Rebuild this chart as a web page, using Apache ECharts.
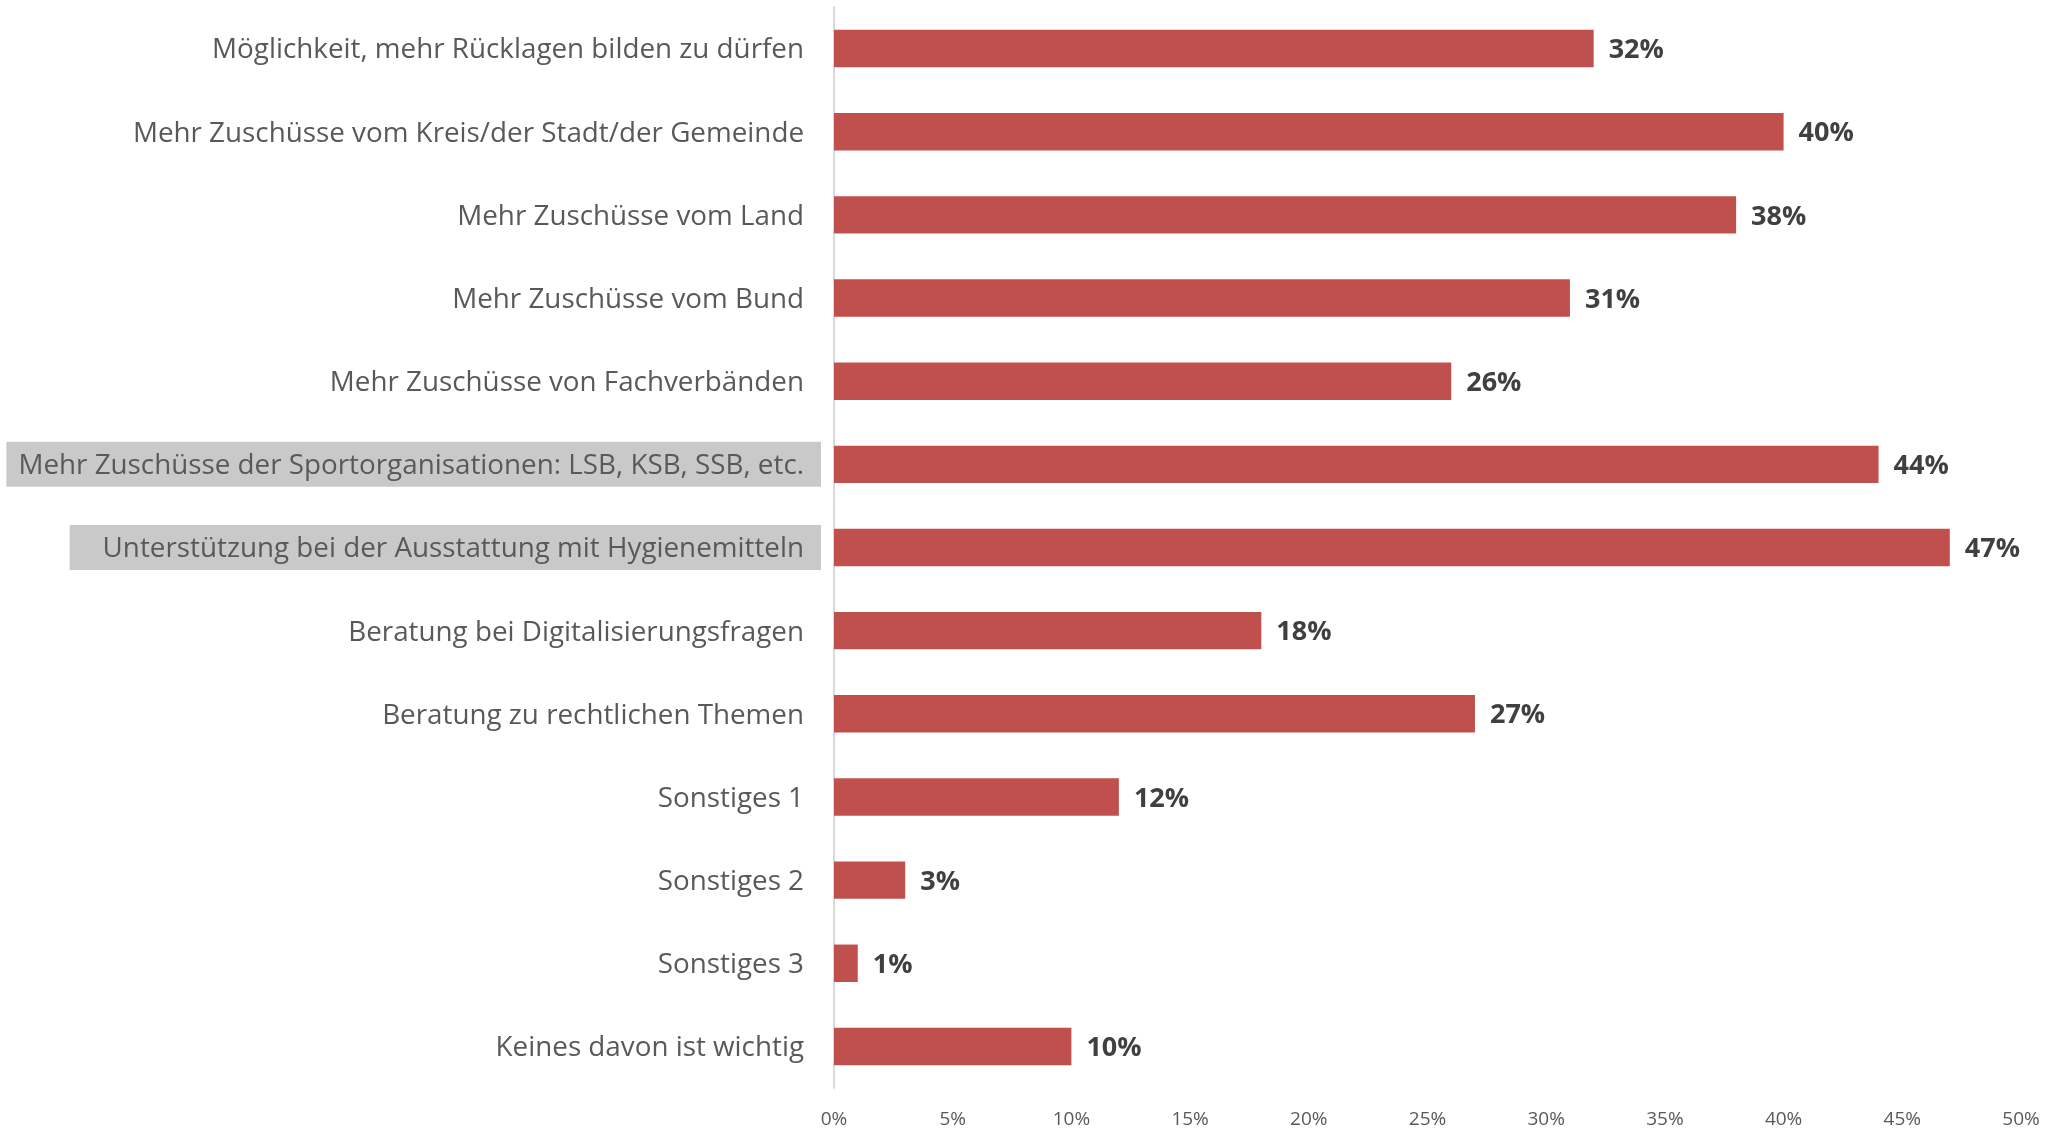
<!DOCTYPE html>
<html>
<head>
<meta charset="utf-8">
<script src="https://cdn.jsdelivr.net/npm/echarts@6/dist/echarts.min.js"></script>
<style>
  html, body { margin: 0; padding: 0; background: #fff; }
  #chart { width: 2049px; height: 1130px; }
</style>
</head>
<body>
<div id="chart"></div>
<script>
const categories = [
  'Möglichkeit, mehr Rücklagen bilden zu dürfen',
  'Mehr Zuschüsse vom Kreis/der Stadt/der Gemeinde',
  'Mehr Zuschüsse vom Land',
  'Mehr Zuschüsse vom Bund',
  'Mehr Zuschüsse von Fachverbänden',
  'Mehr Zuschüsse der Sportorganisationen: LSB, KSB, SSB, etc.',
  'Unterstützung bei der Ausstattung mit Hygienemitteln',
  'Beratung bei Digitalisierungsfragen',
  'Beratung zu rechtlichen Themen',
  'Sonstiges 1',
  'Sonstiges 2',
  'Sonstiges 3',
  'Keines davon ist wichtig'
]
const values = [32, 40, 38, 31, 26, 44, 47, 18, 27, 12, 3, 1, 10]
// labels drawn with a grey box behind them
const highlighted = {
  'Mehr Zuschüsse der Sportorganisationen: LSB, KSB, SSB, etc.': 'hlA',
  'Unterstützung bei der Ausstattung mit Hygienemitteln': 'hlB'
}

const font = '"Open Sans", Lato, sans-serif'
const chart = echarts.init(document.getElementById('chart'))

chart.setOption({
  animation: false,
  grid: { left: 834, right: 28, top: 7, bottom: 42, containLabel: false },
  xAxis: {
    type: 'value',
    min: 0,
    max: 50,
    interval: 5,
    axisLine: { show: false },
    axisTick: { show: false },
    splitLine: { show: false },
    axisLabel: {
      formatter: '{value}%',
      color: '#595959',
      fontFamily: font,
      fontSize: 19,
      margin: 22
    }
  },
  yAxis: {
    type: 'category',
    inverse: true,
    data: categories,
    axisLine: { show: true, lineStyle: { color: '#d9d9d9', width: 2 } },
    axisTick: { show: false },
    axisLabel: {
      margin: 13,
      formatter: v => '{' + (highlighted[v] || 'n') + '|' + v + '}',
      rich: {
        n: { color: '#595959', fontFamily: font, fontSize: 27.8, padding: [4, 17, 0, 0] },
        hlA: {
          color: '#595959', fontFamily: font, fontSize: 27.8,
          backgroundColor: '#c9c9c9', padding: [10, 17, 7, 12]
        },
        hlB: {
          color: '#595959', fontFamily: font, fontSize: 27.8,
          backgroundColor: '#c9c9c9', padding: [10, 17, 7, 33]
        }
      }
    }
  },
  series: [{
    type: 'bar',
    data: values,
    barCategoryGap: '55%',
    itemStyle: { color: '#c0504d' },
    label: {
      show: true,
      position: 'right',
      distance: 15,
      offset: [0, 2],
      formatter: '{c}%',
      color: '#404040',
      fontFamily: font,
      fontWeight: 'bold',
      fontSize: 27
    }
  }]
})
</script>
</body>
</html>
